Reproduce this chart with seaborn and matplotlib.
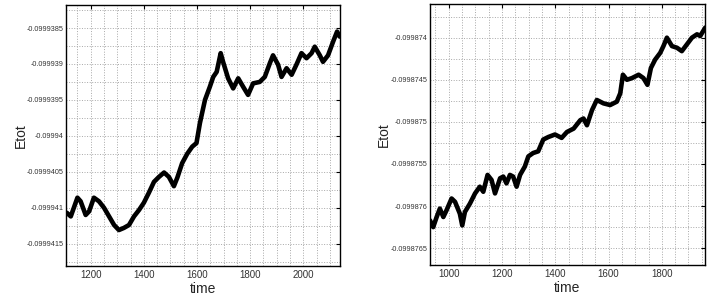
import matplotlib
matplotlib.use("Agg")
import matplotlib.pyplot as plt
import matplotlib.ticker as mticker
import seaborn as sns

# --- Data ---
left_time = [1110, 1125, 1150, 1162, 1181, 1194, 1212, 1231, 1250, 1269,
             1288, 1306, 1325, 1344, 1363, 1382, 1400, 1419, 1438, 1457,
             1476, 1494, 1513, 1526, 1544, 1563, 1582, 1598, 1611, 1630,
             1648, 1661, 1674, 1689, 1698, 1717, 1736, 1755, 1774, 1792,
             1811, 1836, 1855, 1874, 1886, 1905, 1918, 1937, 1956, 1974,
             1993, 2012, 2031, 2043, 2062, 2074, 2093, 2112, 2127, 2137]
left_etot = [-0.09994107, -0.09994112, -0.09994086, -0.09994091, -0.09994110,
             -0.09994105, -0.09994086, -0.09994091, -0.09994100, -0.09994112,
             -0.09994124, -0.09994131, -0.09994128, -0.09994124, -0.09994112,
             -0.09994103, -0.09994093, -0.09994079, -0.09994064, -0.09994057,
             -0.09994051, -0.09994057, -0.09994070, -0.09994058, -0.09994038,
             -0.09994025, -0.09994015, -0.09994010, -0.09993982, -0.09993950,
             -0.09993932, -0.09993918, -0.09993911, -0.09993885, -0.09993897,
             -0.09993920, -0.09993934, -0.09993920, -0.09993932, -0.09993943,
             -0.09993927, -0.09993925, -0.09993918, -0.09993899, -0.09993888,
             -0.09993901, -0.09993918, -0.09993906, -0.09993915, -0.09993901,
             -0.09993885, -0.09993892, -0.09993885, -0.09993876, -0.09993888,
             -0.09993897, -0.09993888, -0.09993869, -0.09993855, -0.09993862]

right_time = [930, 942, 955, 967, 980, 992, 1011, 1024, 1042, 1051,
              1061, 1080, 1099, 1117, 1130, 1146, 1161, 1174, 1193, 1205,
              1217, 1230, 1242, 1255, 1268, 1286, 1299, 1317, 1336, 1355,
              1374, 1399, 1424, 1444, 1469, 1494, 1506, 1519, 1538, 1556,
              1581, 1606, 1631, 1644, 1654, 1669, 1688, 1713, 1731, 1746,
              1759, 1775, 1794, 1806, 1819, 1838, 1857, 1875, 1894, 1913,
              1932, 1944, 1963]
right_etot = [-0.09987617, -0.09987625, -0.09987613, -0.09987603, -0.09987613,
              -0.09987605, -0.09987591, -0.09987595, -0.09987609, -0.09987623,
              -0.09987607, -0.09987597, -0.09987585, -0.09987577, -0.09987583,
              -0.09987563, -0.09987569, -0.09987585, -0.09987567, -0.09987565,
              -0.09987573, -0.09987563, -0.09987565, -0.09987577, -0.09987563,
              -0.09987553, -0.09987541, -0.09987537, -0.09987535, -0.09987521,
              -0.09987518, -0.09987515, -0.09987519, -0.09987512, -0.09987508,
              -0.09987498, -0.09987496, -0.09987504, -0.09987486, -0.09987474,
              -0.09987478, -0.09987480, -0.09987476, -0.09987466, -0.09987444,
              -0.09987450, -0.09987448, -0.09987444, -0.09987448, -0.09987456,
              -0.09987436, -0.09987426, -0.09987418, -0.09987410, -0.09987400,
              -0.09987410, -0.09987412, -0.09987416, -0.09987408, -0.09987400,
              -0.09987396, -0.09987398, -0.09987388]

left_xticks = [1200, 1400, 1600, 1800, 2000]
left_yticks = [-0.0999415, -0.099941, -0.0999405, -0.09994, -0.0999395, -0.099939, -0.0999385]
right_xticks = [1000, 1200, 1400, 1600, 1800]
right_yticks = [-0.0998765, -0.099876, -0.0998755, -0.099875, -0.0998745, -0.099874]


def style_axes(ax, xticks, yticks, xlim, ylim, ylabel_x):
    ax.set_xlim(*xlim)
    ax.set_ylim(*ylim)
    ax.set_xticks(xticks)
    ax.set_yticks(yticks)
    ax.xaxis.set_minor_locator(mticker.MultipleLocator(50))
    ax.yaxis.set_minor_locator(mticker.MultipleLocator(2.5e-7))
    ax.yaxis.set_major_formatter(mticker.FuncFormatter(lambda v, p: f"{v:.7g}"))
    ax.xaxis.set_major_formatter(mticker.FuncFormatter(lambda v, p: f"{v:.0f}"))
    ax.grid(True, which='both', color='#a8a8a8', linestyle=':', linewidth=0.7)
    ax.tick_params(which='major', direction='in', top=True, right=True,
                   length=3, width=0.8, color='black')
    ax.tick_params(which='minor', length=0)
    ax.tick_params(axis='y', labelsize=5.2, labelcolor='#333333', pad=1.5)
    ax.tick_params(axis='x', labelsize=7, labelcolor='#333333', pad=3)
    for sp in ax.spines.values():
        sp.set_color('black')
        sp.set_linewidth(1.0)
    ax.set_xlabel('time', fontsize=10, labelpad=1)
    ax.set_ylabel('Etot', fontsize=10)
    ax.yaxis.set_label_coords(ylabel_x, 0.5)


def main():
    sns.set_theme(style="white")
    plt.rcParams['font.family'] = ['Liberation Sans', 'DejaVu Sans']

    fig = plt.figure(figsize=(7.07, 2.98), dpi=100)
    ax1 = fig.add_axes([66 / 707, 32 / 298, 274 / 707, 261 / 298])
    ax2 = fig.add_axes([430 / 707, 33 / 298, 275 / 707, 261 / 298])

    sns.lineplot(x=left_time, y=left_etot, ax=ax1, color='black', linewidth=3.3)
    sns.lineplot(x=right_time, y=right_etot, ax=ax2, color='black', linewidth=3.3)

    style_axes(ax1, left_xticks, left_yticks, (1107, 2138), (-0.09994181, -0.09993818), -0.139)
    style_axes(ax2, right_xticks, right_yticks, (930, 1962), (-0.0998767, -0.0998736), -0.142)

    fig.savefig('out.png', dpi=100)


if __name__ == "__main__":
    main()
